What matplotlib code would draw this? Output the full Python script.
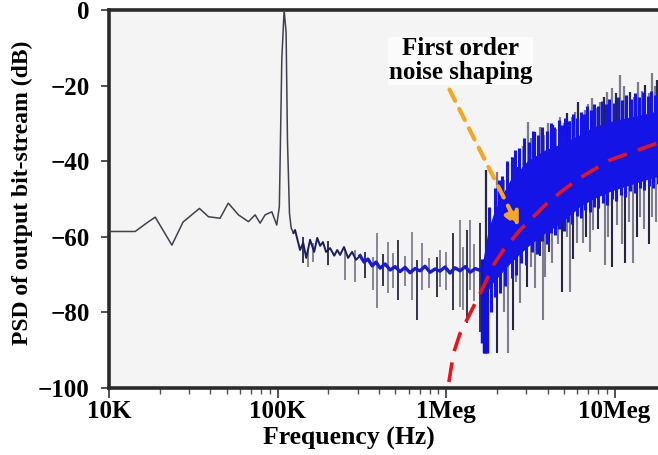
import numpy as np
import matplotlib.pyplot as plt

plt.rcParams['font.family'] = ['Liberation Serif', 'DejaVu Serif']
plt.rcParams['font.weight'] = 'bold'

# low frequency part of the spectrum, with the input tone near 110K
lf_freq = [10e3, 14.3e3, 16.8e3, 18.8e3, 23.6e3, 27.5e3, 34.4e3, 38.9e3, 45.6e3, 51e3,
           58.6e3, 67.2e3, 73.6e3, 78.8e3, 84.4e3, 92.5e3, 98.9e3, 102.5e3, 106e3,
           109.4e3, 112.4e3, 114.5e3, 117.7e3, 120.5e3, 124.3e3]
lf_db = [-58.6, -58.6, -56.3, -54.8, -62.2, -56.1, -52.5, -54.7, -55.1, -51.1,
         -54.2, -56.0, -54.2, -56.4, -54.2, -53.4, -56.9, -52.0, -13.0,
         0.0, -6.0, -34.4, -53.8, -57.7, -59.0]

# noise floor between the tone and the shaped region
floor_freq = [124.3e3, 127e3, 136e3, 142e3, 148e3, 156e3, 165e3, 172e3, 179e3, 186e3, 194e3,
              205e3, 217e3, 226e3, 235e3, 248e3, 262e3, 277e3, 292e3, 309e3, 326e3,
              344e3, 364e3, 384e3, 406e3, 435e3, 466e3, 498e3, 533e3, 571e3, 611e3,
              655e3, 701e3, 750e3, 804e3, 861e3, 921e3, 986e3, 1.056e6, 1.13e6,
              1.21e6, 1.30e6, 1.39e6, 1.49e6, 1.59e6, 1.68e6]
floor_db = [-59.0, -58.2, -63.5, -61.6, -65.6, -60.8, -64.0, -60.3, -62.4, -61.4, -64.0,
            -63.0, -65.0, -63.5, -64.8, -62.7, -65.6, -64.0, -66.1, -65.0, -66.7,
            -65.9, -67.7, -66.7, -68.3, -67.2, -68.8, -67.9, -69.2, -68.1, -69.5,
            -68.4, -69.0, -67.8, -69.4, -68.5, -69.1, -68.0, -69.6, -68.2,
            -69.0, -67.9, -69.4, -68.4, -68.9, -67.5]

floor_spk_freq = [142e3, 152e3, 163e3, 200e3, 252e3, 289e3, 330e3, 369e3, 390e3, 420e3,
                  453e3, 485e3, 520e3, 570e3, 630e3, 675e3, 723e3, 790e3, 886e3, 923e3,
                  1.0e6, 1.10e6, 1.21e6, 1.26e6, 1.33e6, 1.39e6, 1.46e6, 1.59e6]
floor_spk_top = [-60.1, -63.5, -61.6, -61.0, -63.5, -63.5, -64.0, -65.3, -59.0, -64.5,
                 -61.4, -64.3, -60.8, -65.0, -58.7, -66.1, -61.6, -65.5, -65.3, -63.5,
                 -64.0, -59.0, -55.6, -62.7, -58.2, -55.6, -62.0, -56.3]
floor_spk_bot = [-66.9, -68.0, -66.7, -67.5, -71.4, -72.0, -71.0, -74.1, -78.8, -73.0,
                 -74.9, -73.5, -76.7, -73.0, -76.7, -82.0, -74.1, -73.5, -75.9, -73.3,
                 -74.0, -79.4, -78.6, -79.4, -82.8, -74.1, -77.0, -85.2]

# shaped noise band above ~1.7Meg
band_freq = [1.66e6, 1.78e6, 1.91e6, 2.09e6, 2.40e6, 3.03e6, 3.87e6, 4.75e6, 6.24e6,
             7.45e6, 9.4e6, 11.9e6, 15.2e6, 18.1e6]
band_top = [-66, -58, -54, -50, -45, -40, -37, -35.5, -33, -31, -29.5, -28.5, -27.5, -26.6]
band_bot = [-71, -74, -72, -70, -67, -62.7, -59, -56.5, -52, -50, -48, -46.5, -45, -44]

deep_freq = [1.64e6, 1.67e6, 1.70e6, 1.73e6, 1.76e6]
deep_db = [-88, -90.7, -90.7, -89, -90.7]

# jagged blue edges of the band
blue_up_freq = [1.8e6, 1.95e6, 2.05e6, 2.15e6, 2.3e6, 2.45e6, 2.55e6, 2.7e6, 2.9e6, 3.1e6,
                3.3e6, 3.5e6, 3.7e6, 3.95e6, 4.2e6, 4.4e6, 4.65e6, 4.9e6, 5.1e6, 5.4e6,
                5.7e6, 6.0e6, 6.3e6, 6.6e6, 6.9e6, 7.2e6, 7.6e6, 8.0e6, 8.4e6, 8.9e6,
                9.3e6, 9.9e6, 10.5e6, 11.1e6, 11.7e6, 12.5e6, 13.2e6, 14.0e6, 14.8e6,
                15.7e6, 16.5e6, 17.4e6, 18.0e6]
blue_up_db = [-52, -47, -45, -44, -40, -39, -37, -36.5, -34, -35,
              -32, -33, -31, -32, -30, -31, -29, -30.5, -28.5, -29.5,
              -27.5, -28.5, -27, -27.5, -25.5, -26.5, -25, -25.5, -24, -25,
              -23.5, -24.5, -23, -23.8, -22.5, -23.5, -22, -23, -21.8,
              -22.8, -21.5, -22.5, -21.5]
blue_dn_freq = [1.85e6, 1.95e6, 2.1e6, 2.25e6, 2.45e6, 2.6e6, 2.8e6, 3.0e6, 3.25e6, 3.45e6,
                3.7e6, 3.95e6, 4.2e6, 4.45e6, 4.7e6, 5.0e6, 5.3e6, 5.6e6, 5.95e6, 6.3e6,
                6.7e6, 7.1e6, 7.5e6, 8.0e6, 8.5e6, 9.0e6, 9.6e6, 10.2e6, 10.9e6, 11.6e6,
                12.4e6, 13.2e6, 14.1e6, 15.0e6, 16.0e6, 17.0e6, 18.0e6]
blue_dn_db = [-80, -76, -75, -73, -71, -70, -67, -67.5, -64, -64.5,
              -61, -62, -59, -59.5, -58, -58.5, -56, -56.5, -54.5, -55,
              -53, -53.5, -52, -52.5, -51, -51.5, -50, -50.5, -49, -49.5,
              -48, -48.5, -47, -47.5, -46.5, -47, -46]

# grey spikes above and below the band
up_freq = [1.73e6, 2.01e6, 2.2e6, 2.47e6, 2.64e6, 2.85e6, 3.07e6, 3.2e6, 3.38e6, 3.6e6,
           3.8e6, 4.04e6, 4.32e6, 4.5e6, 4.75e6, 5.0e6, 5.23e6, 5.45e6, 5.6e6, 5.8e6,
           6.08e6, 6.4e6, 6.69e6, 7.0e6, 7.2e6, 7.36e6, 7.8e6, 8.22e6, 8.6e6, 9.04e6,
           9.4e6, 9.69e6, 10.2e6, 10.8e6, 11.4e6, 11.9e6, 12.4e6, 13.0e6, 13.8e6, 14.5e6,
           15.2e6, 16.0e6, 16.7e6, 17.3e6, 17.9e6]
up_db = [-42.3, -42.8, -45, -38.9, -41.5, -36, -29.6, -34, -32.3, -31,
         -33, -29.9, -30.4, -31.5, -28.3, -30, -27.2, -29.5, -28.3, -27,
         -24.3, -28, -26.5, -25, -27, -23.3, -26, -24.3, -23, -21.7,
         -24, -20.6, -22, -17.2, -20, -23, -21.7, -23, -19.0, -21.5,
         -19.8, -22, -16.7, -20, -18.5]

dn_freq = [2.01e6, 2.2e6, 2.33e6, 2.50e6, 2.6e6, 2.75e6, 3.03e6, 3.2e6, 3.38e6, 3.6e6,
           3.78e6, 3.87e6, 4.1e6, 4.26e6, 4.6e6, 4.89e6, 5.2e6, 5.45e6, 5.7e6, 6.0e6,
           6.51e6, 6.8e6, 7.1e6, 7.45e6, 8.0e6, 8.79e6, 9.2e6, 9.69e6, 10.4e6, 11.0e6,
           11.6e6, 12.2e6, 12.9e6, 13.5e6, 14.2e6, 15.0e6, 16.0e6, 16.7e6, 17.5e6]
dn_db = [-90.7, -80, -90.7, -84.7, -72, -77.5, -73.3, -68, -73.5, -65,
         -82, -70.6, -64, -66.9, -62, -74.6, -60, -74.6, -66, -61.7,
         -61.7, -60, -64, -58.2, -58, -67.5, -60, -68.0, -57, -62,
         -67.0, -56, -67.0, -60, -54.8, -58, -62, -54.8, -56]

# ideal first order noise shaping curve
red_freq = [0.98e6, 1.033e6, 1.107e6, 1.213e6, 1.328e6, 1.523e6, 1.667e6, 1.911e6, 2.19e6,
            2.75e6, 4.04e6, 4.98e6, 6.24e6, 9.4e6, 15.6e6, 18.5e6]
red_db = [-115, -99.2, -90.8, -85.5, -82.0, -76.7, -73.2, -67.5, -63.5,
          -58.2, -50.8, -47.6, -44.4, -39.7, -36.2, -35.0]

xtick_vals = [1e4, 1e5, 1e6, 1e7]
xtick_labels = ['10K', '100K', '1Meg', '10Meg']
ytick_vals = [0, -20, -40, -60, -80, -100]
ytick_labels = ['0', '\u221220', '\u221240', '\u221260', '\u221280', '\u2212100']

fig = plt.figure(figsize=(6.58, 4.55), dpi=100)
ax = fig.add_axes([0.1657, 0.1473, 0.8343, 0.8308])
ax.set_facecolor('#f4f4f4')
ax.set_xscale('log')

gray = '#7c7c8c'
dark = '#26263e'
blue = '#1414e6'

# low-frequency trace
ax.plot(lf_freq, lf_db, color='#40404e', lw=1.1, zorder=3)
ax.plot(floor_freq[:20], floor_db[:20], color='#1c1c60', lw=1.4, zorder=3)
ax.plot(floor_freq[19:], floor_db[19:], color='#1a1ad0', lw=2.4, zorder=3)
ax.vlines(floor_spk_freq, floor_spk_bot, floor_spk_top,
          colors=[dark if i % 3 == 0 else gray for i in range(len(floor_spk_freq))],
          lw=1.3, zorder=2)

# shaped noise band
band_mid = (np.array(band_top) + np.array(band_bot)) / 2
lb = np.log10(band_freq)
up_base = np.interp(np.log10(up_freq), lb, band_mid)
dn_base = np.interp(np.log10(dn_freq), lb, band_mid)
ax.vlines(up_freq, up_base, up_db,
          colors=[dark if i % 4 == 0 else gray for i in range(len(up_freq))], lw=1.6, zorder=2)
ax.vlines(dn_freq, dn_db, dn_base,
          colors=[dark if i % 3 == 0 else gray for i in range(len(dn_freq))], lw=1.5, zorder=2)
ax.vlines(deep_freq, deep_db, -66, colors='#1010d8', lw=2.5, zorder=3)
ax.fill_between(band_freq, band_bot, band_top, color=blue, lw=0, zorder=3)
bu_base = np.interp(np.log10(blue_up_freq), lb, band_mid)
bd_base = np.interp(np.log10(blue_dn_freq), lb, band_mid)
ax.vlines(blue_up_freq, bu_base, blue_up_db, colors=blue, lw=2.2, zorder=3)
ax.vlines(blue_dn_freq, blue_dn_db, bd_base, colors=blue, lw=2.2, zorder=3)

# noise shaping curve and annotation
ax.plot(red_freq, red_db, color='#e8141c', lw=2.6, dashes=(5.5, 3.2), zorder=5)
ax.annotate('', xy=(2.75e6, -58.2), xytext=(1.03e6, -20.4),
            arrowprops=dict(arrowstyle='-|>', color='#f5a623', lw=3,
                            linestyle=(0, (3, 2.2)), mutation_scale=22),
            zorder=6)
ax.text(1.22e6, -13.4, 'First order\nnoise shaping', ha='center', va='center',
        fontsize=18, fontweight='bold', linespacing=1.05, zorder=7,
        bbox=dict(facecolor='#fbfbfb', edgecolor='none', pad=0.3))

ax.set_xlim(1e4, 1.81e7)
ax.set_ylim(-100, 0)
ax.set_xticks(xtick_vals, xtick_labels)
ax.set_yticks(ytick_vals, ytick_labels)
ax.tick_params(axis='both', labelsize=18, width=1.2, color='#333333')
ax.tick_params(axis='x', which='major', length=7, pad=2)
ax.tick_params(axis='x', which='minor', length=4, width=1.0, color='#555555')
ax.tick_params(axis='y', length=6, pad=8)
ax.xaxis.set_minor_formatter(plt.NullFormatter())

for side in ['left', 'bottom', 'top']:
    ax.spines[side].set_linewidth(2.6)
    ax.spines[side].set_color('#2a2a2a')
ax.spines['right'].set_visible(False)

fig.text(349 / 658, 1 - 438 / 455, 'Frequency (Hz)', ha='center', va='center',
         fontsize=18.5, fontweight='bold')
fig.text(22 / 658, 1 - 193 / 455, 'PSD of output bit-stream (dB)', ha='center', va='center',
         rotation=90, fontsize=17, fontweight='bold')

fig.savefig('out.png', dpi=100)
